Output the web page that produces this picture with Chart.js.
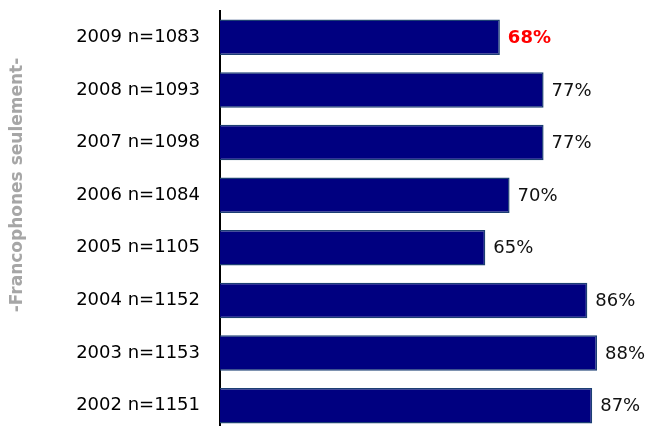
<!DOCTYPE html>
<html>
<head>
<meta charset="utf-8">
<script src="https://cdn.jsdelivr.net/npm/chart.js@4.4.0/dist/chart.umd.min.js"></script>
<style>
    html, body { margin: 0; padding: 0; background: #fff; overflow: hidden; }
    canvas { display: block; }
</style>
</head>
<body>
<!-- un peu plus haut que la fenetre : la derniere marge du bas est coupee -->
<canvas id="barFrancophones" width="650" height="432"></canvas>
<script>
(function () {
    "use strict";

    // donnees du graphique
    const years = ["2009", "2008", "2007", "2006", "2005", "2004", "2003", "2002"];
    const sampleSizes = [1083, 1093, 1098, 1084, 1105, 1152, 1153, 1151];
    const values = [68, 77, 77, 70, 65, 86, 88, 87];
    const valueLabels = ["68%", "77%", "77%", "70%", "65%", "86%", "88%", "87%"];
    const sideTitle = "-Francophones seulement-";

    let labels = [];
    for (var i = 0; i < years.length; i++) {
        labels.push(years[i] + " n=" + sampleSizes[i]);
    }

    // etiquettes de valeur a droite des barres
    const valuePlugin = {
        id: "valeurs",
        afterDatasetsDraw: function (chart) {
            let ctx = chart.ctx;
            let meta = chart.getDatasetMeta(0);
            ctx.save();
            ctx.textAlign = "left";
            ctx.textBaseline = "middle";
            meta.data.forEach(function (bar, idx) {
                if (idx == 0) {
                    ctx.fillStyle = "#ff0000";
                    ctx.font = "bold 18px 'DejaVu Sans'";
                } else {
                    ctx.fillStyle = "#111111";
                    ctx.font = "18px 'DejaVu Sans'";
                }
                ctx.fillText(valueLabels[idx], bar.x + 8, bar.y + 1);
            });
            ctx.restore();
        }
    };

    // texte vertical a gauche
    const sidePlugin = {
        id: "texteCote",
        afterDraw: function (chart) {
            let ctx = chart.ctx;
            ctx.save();
            ctx.translate(18, 185);
            ctx.rotate(-Math.PI / 2);
            ctx.textAlign = "center";
            ctx.textBaseline = "middle";
            ctx.fillStyle = "#a6a6a6";
            ctx.font = "bold 17px 'DejaVu Sans'";
            ctx.fillText(sideTitle, 0, 0);
            ctx.restore();
        }
    };

    var ctx = document.getElementById("barFrancophones");
    var myChart = new Chart(ctx, {
        type: 'bar',
        data: {
            labels: labels,
            datasets: [{
                data: values,
                backgroundColor: "#000080",
                borderColor: "#1c3f73",
                borderWidth: 1.5,
                borderSkipped: false,
                categoryPercentage: 1,
                barPercentage: 0.675
            }]
        },
        options: {
            indexAxis: 'y',
            responsive: false,
            animation: false,
            devicePixelRatio: 1,
            layout: {
                padding: { top: 11, bottom: 0, left: 0, right: 0 }
            },
            plugins: {
                legend: { display: false },
                tooltip: { enabled: false }
            },
            scales: {
                x: {
                    display: false,
                    min: 10.4,
                    max: 98.9
                },
                y: {
                    afterFit: function (scale) {
                        scale.width = 220;
                        scale.paddingTop = 0;
                        scale.paddingBottom = 0;
                    },
                    grid: { display: false, drawTicks: true, tickLength: 20 },
                    border: { display: true, color: "#000000", width: 2 },
                    ticks: {
                        color: "#000000",
                        padding: 0,
                        font: { family: "DejaVu Sans", size: 18 }
                    }
                }
            }
        },
        plugins: [valuePlugin, sidePlugin]
    });
})();
</script>
</body>
</html>
